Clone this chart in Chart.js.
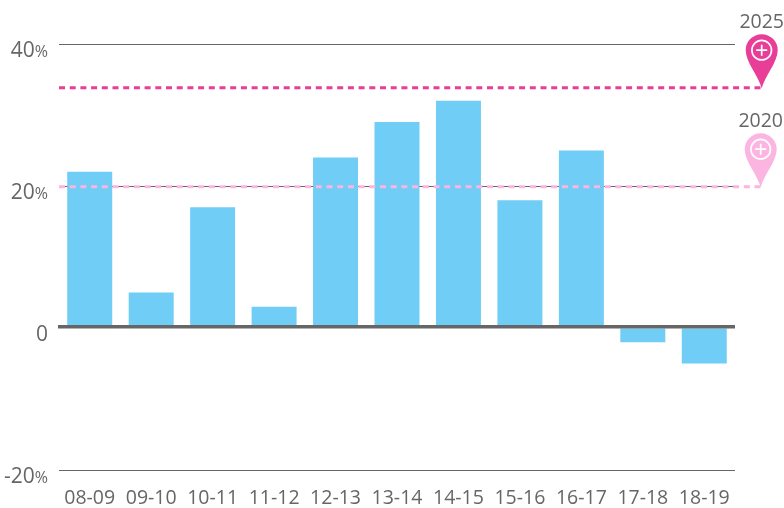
<!DOCTYPE html>
<html>
<head>
<meta charset="utf-8">
<style>
body { margin: 0; background: #fff; }
canvas { display: block; }
</style>
<script src="https://cdn.jsdelivr.net/npm/chart.js@4"></script>
</head>
<body>
<canvas id="growthChart" width="784" height="508"></canvas>
<script>
const categories = ['08-09', '09-10', '10-11', '11-12', '12-13', '13-14', '14-15', '15-16', '16-17', '17-18', '18-19'];
const growthValues = [22, 5, 17, 3, 24, 29, 32, 18, 25, -2, -5];
const yTicks = [40, 20, 0, -20];
const targetYears = ['2025', '2020'];
const targetValues = [33.85, 19.9];
const targetColors = ['#e83e98', '#fcb5e0'];

const FONT = '"Open Sans", sans-serif';
const TEXT_COLOR = '#666666';

function drawPin(ctx, x, tipY, color) {
    const cy = tipY - 38;
    const r = 16;
    ctx.fillStyle = color;
    ctx.beginPath();
    ctx.moveTo(x, tipY);
    ctx.bezierCurveTo(x - 3, tipY - 12, x - r, tipY - 26, x - r, cy);
    ctx.arc(x, cy, r, Math.PI, 0);
    ctx.bezierCurveTo(x + r, tipY - 26, x + 3, tipY - 12, x, tipY);
    ctx.closePath();
    ctx.fill();
    ctx.strokeStyle = '#ffffff';
    ctx.lineWidth = 1.7;
    ctx.beginPath();
    ctx.arc(x, cy, 9.8, 0, Math.PI * 2);
    ctx.stroke();
    ctx.beginPath();
    ctx.moveTo(x - 5.5, cy);
    ctx.lineTo(x + 5.5, cy);
    ctx.moveTo(x, cy - 5.5);
    ctx.lineTo(x, cy + 5.5);
    ctx.stroke();
}

const overlay = {
    id: 'overlay',
    afterDatasetsDraw(chart) {
        const { ctx, chartArea, scales } = chart;
        const y = scales.y;
        ctx.save();

        // zero line sits slightly above the bars' base
        ctx.strokeStyle = '#666666';
        ctx.lineWidth = 3.4;
        ctx.beginPath();
        ctx.moveTo(chartArea.left - 1, y.getPixelForValue(0) - 1.3);
        ctx.lineTo(chartArea.right, y.getPixelForValue(0) - 1.3);
        ctx.stroke();

        // y labels, the % sign is smaller than the number
        ctx.textBaseline = 'alphabetic';
        ctx.fillStyle = TEXT_COLOR;
        yTicks.forEach(v => {
            const py = y.getPixelForValue(v) + 13;
            let x = 48;
            ctx.textAlign = 'right';
            if (v !== 0) {
                ctx.font = '16px ' + FONT;
                ctx.fillText('%', x, py);
                x -= ctx.measureText('%').width;
            }
            ctx.font = '21px ' + FONT;
            ctx.fillText(String(v), x, py);
        });

        // target lines with pins, 2020 first so 2025 stays on top
        for (let i = targetValues.length - 1; i >= 0; i--) {
            const ty = y.getPixelForValue(targetValues[i]);
            const pinX = 761 + (i === 0 ? 0.7 : -0.3);
            ctx.strokeStyle = targetColors[i];
            ctx.lineWidth = 3;
            ctx.setLineDash([6, 4.7]);
            ctx.beginPath();
            ctx.moveTo(chartArea.left, ty);
            ctx.lineTo(pinX, ty);
            ctx.stroke();
            ctx.setLineDash([]);
            drawPin(ctx, pinX, ty + 0.5, targetColors[i]);
            ctx.fillStyle = TEXT_COLOR;
            ctx.font = '19.5px ' + FONT;
            ctx.textAlign = 'center';
            ctx.fillText(targetYears[i], pinX, ty - 60);
        }
        ctx.restore();
    }
};

new Chart(document.getElementById('growthChart'), {
    type: 'bar',
    data: {
        labels: categories,
        datasets: [{
            data: growthValues,
            backgroundColor: '#6fcdf6',
            barPercentage: 0.732,
            categoryPercentage: 1
        }]
    },
    options: {
        responsive: false,
        animation: false,
        layout: { padding: { left: 59, right: 49, top: 44, bottom: 0 } },
        plugins: { legend: { display: false }, tooltip: { enabled: false } },
        scales: {
            x: {
                grid: { display: false },
                border: { display: false },
                afterFit(scale) { scale.height = 38; },
                ticks: {
                    color: TEXT_COLOR,
                    font: { family: FONT, size: 19.5 },
                    maxRotation: 0,
                    autoSkip: false,
                    padding: 9
                }
            },
            y: {
                min: -20,
                max: 40,
                border: { display: false },
                ticks: { display: false, stepSize: 20 },
                grid: {
                    drawTicks: false,
                    lineWidth: 1,
                    color: ctx => ctx.tick.value === 0 ? 'transparent' : '#666666'
                }
            }
        }
    },
    plugins: [overlay]
});
</script>
</body>
</html>
